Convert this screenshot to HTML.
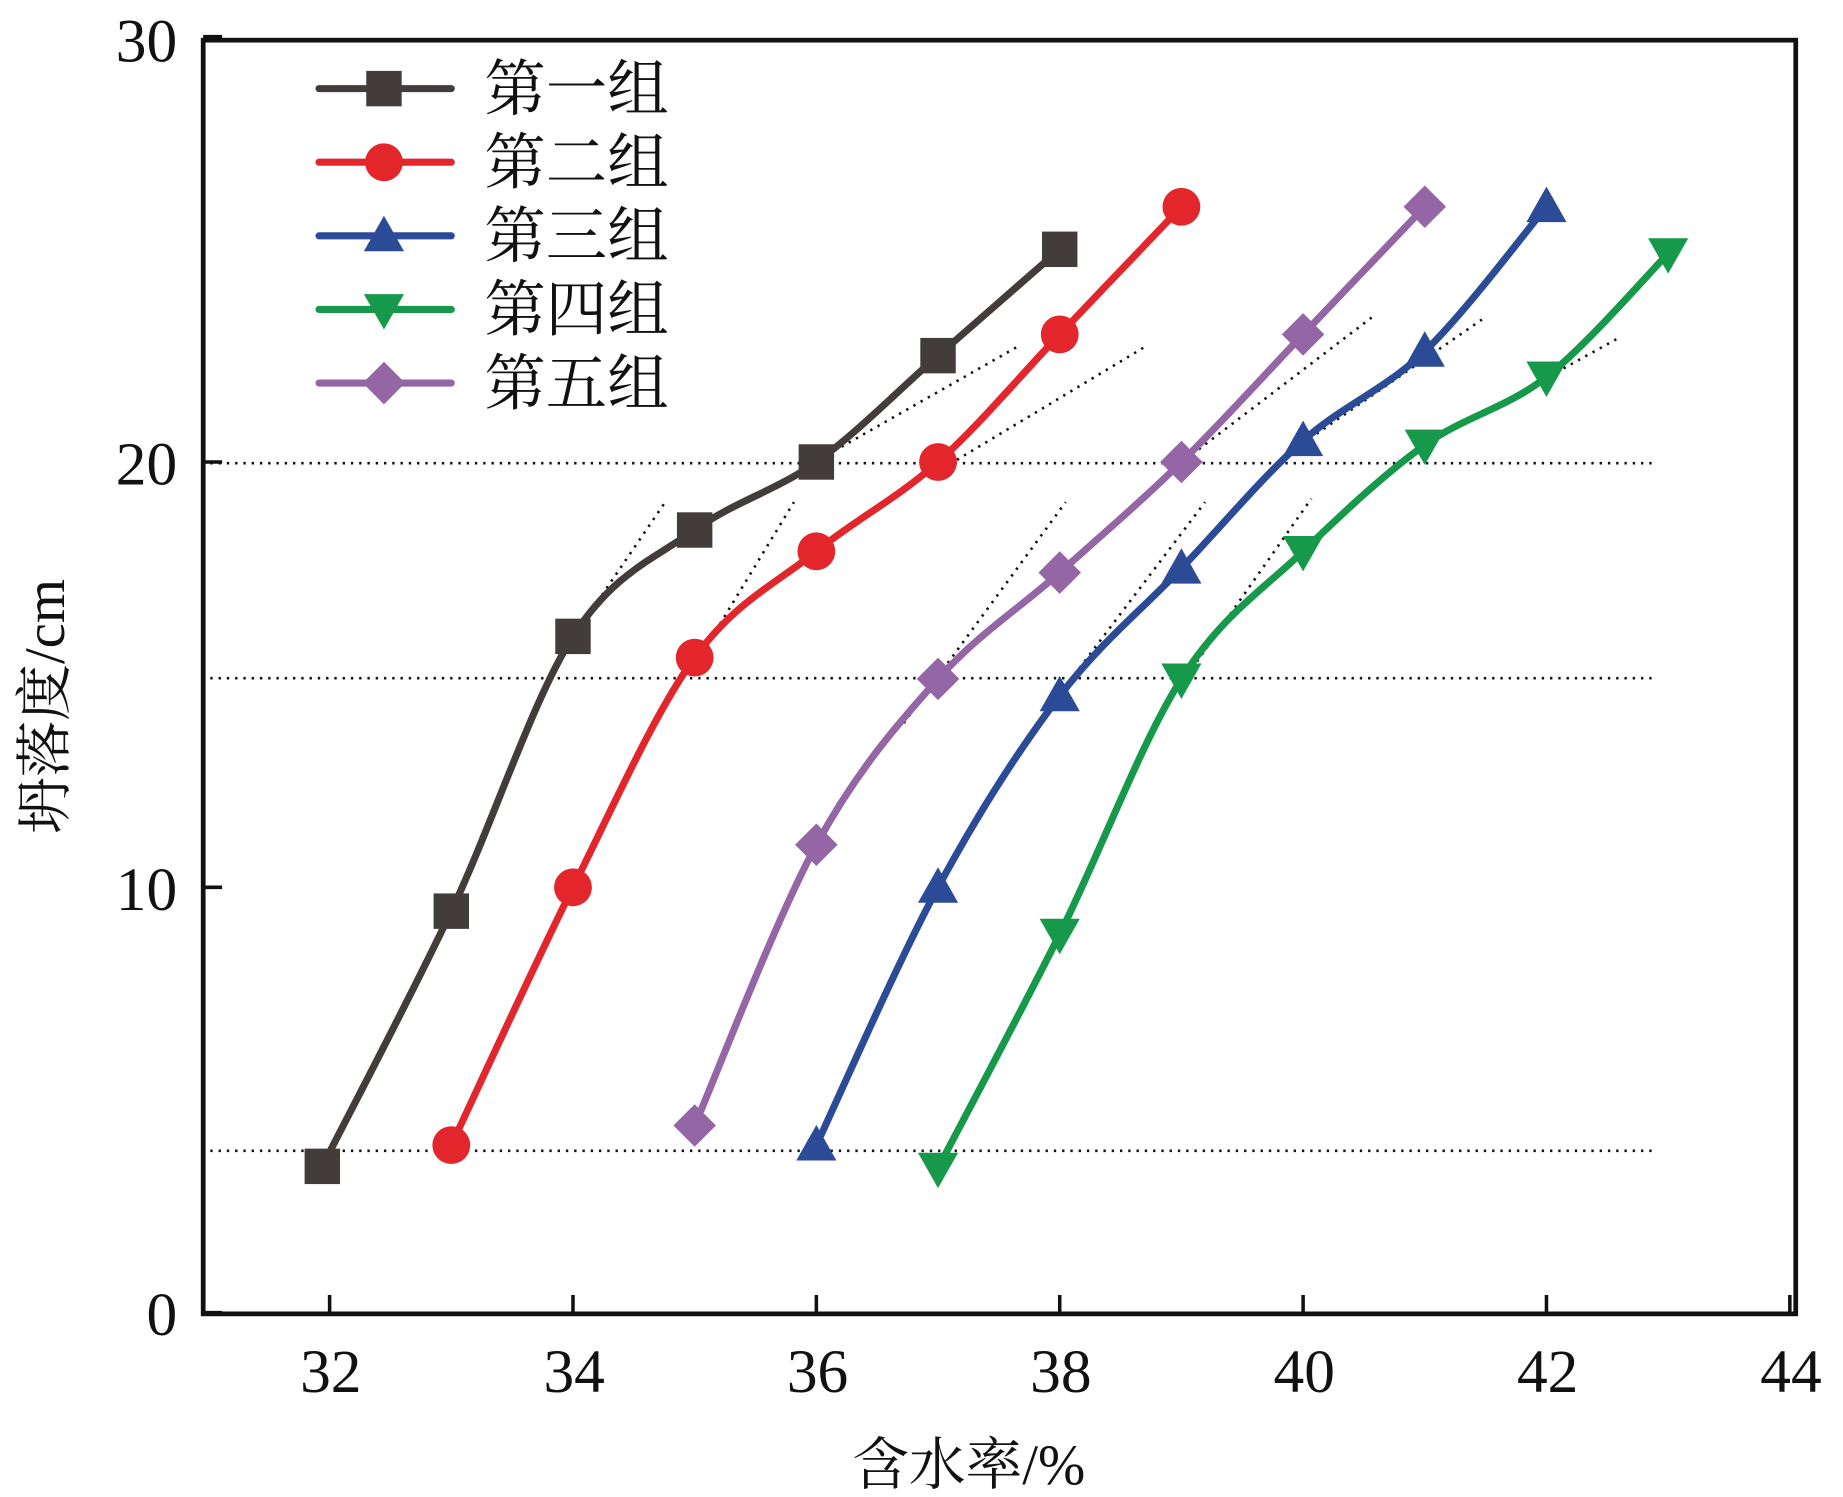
<!DOCTYPE html>
<html><head><meta charset="utf-8"><style>html,body{margin:0;padding:0;background:#fff}svg{display:block}</style></head>
<body>
<svg id="s" width="1843" height="1497" viewBox="0 0 1560 1267" preserveAspectRatio="none" xmlns="http://www.w3.org/2000/svg">
<rect width="1560" height="1267" fill="#fff"/>
<g stroke="#111" stroke-width="2.2" stroke-dasharray="2,5" fill="none">
<line x1="178" y1="392" x2="1402" y2="392"/>
<line x1="178" y1="574" x2="1402" y2="574"/>
<line x1="178" y1="974" x2="1402" y2="974"/>
<line x1="478" y1="550" x2="563" y2="425"/>
<line x1="688" y1="392" x2="862" y2="293"/>
<line x1="792" y1="400" x2="970" y2="293"/>
<line x1="584" y1="570" x2="672" y2="425"/>
<line x1="765" y1="612" x2="902" y2="425"/>
<line x1="880" y1="610" x2="1020" y2="425"/>
<line x1="998" y1="393" x2="1162" y2="268"/>
<line x1="1103" y1="375" x2="1255" y2="270"/>
<line x1="985" y1="600" x2="1110" y2="422"/>
<line x1="1207" y1="376" x2="1372" y2="285"/>
</g>
<g id="series"></g>
<rect x="172" y="34" width="1348" height="1078" fill="none" stroke="#111" stroke-width="4"/>
<g stroke="#111" stroke-width="3" id="ticks"></g>
<g font-family="Liberation Serif, serif" font-size="52" fill="#111" text-anchor="middle">
<text x="280" y="1178">32</text><text x="486" y="1178">34</text><text x="692" y="1178">36</text><text x="898" y="1178">38</text><text x="1104" y="1178">40</text><text x="1310" y="1178">42</text><text x="1516" y="1178">44</text>
<g text-anchor="end"><text x="150" y="1130">0</text><text x="150" y="770">10</text><text x="150" y="410">20</text><text x="150" y="52">30</text></g>
</g>
<text x="820" y="1256" font-family="Liberation Serif, 'Noto Serif CJK SC', serif" font-size="48" text-anchor="middle" fill="#111">含水率/%</text>
<text transform="translate(54,598) rotate(-90)" font-family="Liberation Serif, 'Noto Serif CJK SC', serif" font-size="48" text-anchor="middle" fill="#111">坍落度/cm</text>
<g id="legend" font-family="Liberation Serif, 'Noto Serif CJK SC', serif" font-size="52" fill="#111"></g>
</svg>
<script>
var NS="http://www.w3.org/2000/svg";
function X(v){return 279+(v-32)*103;}function Y(v){return 1111-v*36;}
var S=[
{c:"#423d3a",m:"sq",d:[[31.94,3.44],[33,9.44],[34,15.9],[35,18.4],[36,20],[37,22.5],[38,25]]},
{c:"#e3262c",m:"ci",d:[[33,3.94],[34,10],[35,15.4],[36,17.9],[37,20],[38,23],[39,26]]},
{c:"#2c4b97",m:"up",d:[[36,3.94],[37,10],[38,14.5],[39,17.5],[40,20.5],[41,22.6],[42,26]]},
{c:"#16994a",m:"dn",d:[[37,3.4],[38,8.9],[39,14.9],[40,17.9],[41,20.4],[42,22],[43,24.9]]},
{c:"#9466a6",m:"di",d:[[35,4.4],[36,11],[37,14.9],[38,17.4],[39,20],[40,23],[41,26]]}];
function el(t,a,p){var e=document.createElementNS(NS,t);for(var k in a)e.setAttribute(k,a[k]);p.appendChild(e);return e;}
function marker(m,x,y,c,p){var r=15;
if(m=="sq")el("rect",{x:x-r,y:y-r,width:2*r,height:2*r,fill:c},p);
else if(m=="ci")el("circle",{cx:x,cy:y,r:r+1,fill:c},p);
else if(m=="up")el("polygon",{points:(x)+","+(y-r-2)+" "+(x-r-2)+","+(y+r-2)+" "+(x+r+2)+","+(y+r-2),fill:c},p);
else if(m=="dn")el("polygon",{points:(x)+","+(y+r+2)+" "+(x-r-2)+","+(y-r+2)+" "+(x+r+2)+","+(y-r+2),fill:c},p);
else el("polygon",{points:x+","+(y-r-3)+" "+(x+r+3)+","+y+" "+x+","+(y+r+3)+" "+(x-r-3)+","+y,fill:c},p);}
var g=document.getElementById("series");
S.forEach(function(s){var P=s.d.map(function(d){return[X(d[0]),Y(d[1])];});
var p="M"+P[0][0]+","+P[0][1];
for(var i=0;i<P.length-1;i++){var p0=P[Math.max(i-1,0)],p1=P[i],p2=P[i+1],p3=P[Math.min(i+2,P.length-1)];
var t=6;p+=" C"+(p1[0]+(p2[0]-p0[0])/t)+","+(p1[1]+(p2[1]-p0[1])/t)+" "+(p2[0]-(p3[0]-p1[0])/t)+","+(p2[1]-(p3[1]-p1[1])/t)+" "+p2[0]+","+p2[1];}
el("path",{d:p,fill:"none",stroke:s.c,"stroke-width":6,"stroke-linejoin":"round"},g);
P.forEach(function(q){marker(s.m,q[0],q[1],s.c,g);});});
var tk=document.getElementById("ticks");
for(var v=32;v<=44;v+=2)el("line",{x1:X(v),y1:1112,x2:X(v),y2:1096},tk);
[0,10,20,30].forEach(function(v){el("line",{x1:172,y1:Y(v),x2:188,y2:Y(v)},tk);});
var L=document.getElementById("legend"),names=["第一组","第二组","第三组","第四组","第五组"];
S.forEach(function(s,i){var y=75+i*62.3;
el("line",{x1:270,y1:y,x2:382,y2:y,stroke:s.c,"stroke-width":6,"stroke-linecap":"round"},L);
marker(s.m,325,y,s.c,L);var t=el("text",{x:410,y:y+18},L);t.textContent=names[i];});
</script>
</body></html>
